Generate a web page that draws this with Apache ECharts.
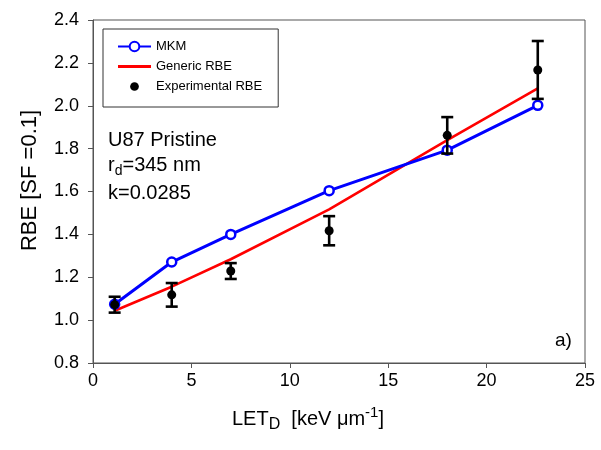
<!DOCTYPE html>
<html>
<head>
<meta charset="utf-8">
<script src="https://cdn.jsdelivr.net/npm/echarts@6/dist/echarts.min.js"></script>
<style>html,body{margin:0;padding:0;background:#fff}#c{width:601px;height:450px}</style>
</head>
<body>
<div id="c"></div>
<script>
const letValues = [1.1, 4.0, 7.0, 12.0, 18.0, 22.6];
const mkmRBE = [1.074, 1.271, 1.400, 1.604, 1.793, 2.002];
const genericRBE = [1.044, 1.156, 1.284, 1.517, 1.840, 2.081];
const expRBE = [1.072, 1.118, 1.229, 1.417, 1.862, 2.167];
const expErr = [0.037, 0.055, 0.037, 0.068, 0.085, 0.135];
const xTicks = [0, 5, 10, 15, 20, 25];
const yTicks = [0.8, 1.0, 1.2, 1.4, 1.6, 1.8, 2.0, 2.2, 2.4];

const FONT = 'Liberation Sans, Arial, sans-serif';
const chart = echarts.init(document.getElementById('c'), null, {renderer: 'canvas'});

const zip = (a, b) => a.map((v, i) => [v, b[i]]);

chart.setOption({
  animation: false,
  backgroundColor: '#fff',
  textStyle: {fontFamily: FONT},
  grid: {left: 93, right: 16, top: 20, bottom: 87, show: true, borderColor: '#555', borderWidth: 1},
  xAxis: {
    type: 'value', min: xTicks[0], max: xTicks[xTicks.length - 1], interval: 5,
    axisLine: {lineStyle: {color: '#555', width: 1}},
    axisTick: {show: true, inside: false, length: 5, lineStyle: {color: '#555'}},
    axisLabel: {color: '#000', fontSize: 18, fontFamily: FONT, margin: 9},
    splitLine: {show: false},
    name: '{b|LET}{s|D}{b|  [keV μm}{p|-1}{b|]}',
    nameLocation: 'middle', nameGap: 42,
    nameTextStyle: {padding: [0, 62, 0, 0], rich: {
      b: {fontSize: 20, fontFamily: FONT, color: '#000'},
      s: {fontSize: 16, fontFamily: FONT, color: '#000', verticalAlign: 'bottom', padding: [12, 0, 0, 0]},
      p: {fontSize: 15, fontFamily: FONT, color: '#000', verticalAlign: 'top', padding: [0, 0, 10, 0]}
    }}
  },
  yAxis: {
    type: 'value', min: 0.8, max: 2.4, interval: 0.2,
    axisLine: {show: true, lineStyle: {color: '#555', width: 1}},
    axisTick: {show: true, inside: false, length: 5, lineStyle: {color: '#555'}},
    axisLabel: {color: '#000', fontSize: 18, fontFamily: FONT, margin: 14, formatter: v => v.toFixed(1)},
    splitLine: {show: false},
    name: 'RBE [SF =0.1]', nameLocation: 'middle', nameGap: 52, nameRotate: 90,
    nameTextStyle: {fontSize: 22, fontFamily: FONT, color: '#000', padding: [0, 0, 0, 22]}
  },
  legend: {
    orient: 'vertical', left: 103, top: 29,
    padding: [11, 16, 14, 14], itemGap: 7, itemWidth: 33, itemHeight: 12,
    borderColor: '#333', borderWidth: 1, backgroundColor: '#fff',
    textStyle: {fontSize: 13, fontFamily: FONT, color: '#000'},
    data: [
      {name: 'MKM'},
      {name: 'Generic RBE', icon: 'path://M0,0 H34 V3 H0 Z'},
      {name: 'Experimental RBE', icon: 'path://M0,0 L0,0 M34,12 L34,12 M12.5,6 A4.5,4.5 0 1 1 21.5,6 A4.5,4.5 0 1 1 12.5,6 Z', itemStyle: {color: '#000', opacity: 1}}
    ]
  },
  graphic: [
    {type: 'text', left: 108, top: 130, style: {text: 'U87 Pristine', fontSize: 20, fontFamily: FONT, fill: '#000'}},
    {type: 'text', left: 108, top: 155, style: {
      text: '{b|r}{s|d}{b|=345 nm}', rich: {
        b: {fontSize: 20, fontFamily: FONT, color: '#000'},
        s: {fontSize: 14, fontFamily: FONT, color: '#000', verticalAlign: 'bottom', padding: [12, 0, 0, 0]}
      }}},
    {type: 'text', left: 108, top: 183, style: {text: 'k=0.0285', fontSize: 20, fontFamily: FONT, fill: '#000'}},
    {type: 'text', left: 555, top: 331, style: {text: 'a)', fontSize: 19, fontFamily: FONT, fill: '#000'}}
  ],
  series: [
    {
      name: 'Generic RBE', type: 'line', data: zip(letValues, genericRBE),
      showSymbol: false, symbol: 'none', lineStyle: {color: '#ff0000', width: 2.6}, itemStyle: {color: '#ff0000'}, z: 3
    },
    {
      name: 'MKM', type: 'line', data: zip(letValues, mkmRBE),
      symbol: 'circle', symbolSize: 9, showSymbol: true,
      lineStyle: {color: '#0000ff', width: 3},
      itemStyle: {color: '#fff', borderColor: '#0000ff', borderWidth: 2.5}, z: 4
    },
    {
      name: 'Experimental RBE error', type: 'custom',
      data: letValues.map((x, i) => [x, expRBE[i] - expErr[i], expRBE[i] + expErr[i]]),
      renderItem: (params, api) => {
        const lo = api.coord([api.value(0), api.value(1)]);
        const hi = api.coord([api.value(0), api.value(2)]);
        const w = 6;
        const st = {stroke: '#000', lineWidth: 2.6};
        return {type: 'group', children: [
          {type: 'line', shape: {x1: lo[0], y1: lo[1], x2: hi[0], y2: hi[1]}, style: st},
          {type: 'line', shape: {x1: lo[0] - w, y1: lo[1], x2: lo[0] + w, y2: lo[1]}, style: st},
          {type: 'line', shape: {x1: hi[0] - w, y1: hi[1], x2: hi[0] + w, y2: hi[1]}, style: st}
        ]};
      },
      z: 5
    },
    {
      name: 'Experimental RBE', type: 'scatter', data: zip(letValues, expRBE),
      symbol: 'circle', symbolSize: 9, itemStyle: {color: '#000', opacity: 1}, z: 6
    }
  ]
});
</script>
</body>
</html>
